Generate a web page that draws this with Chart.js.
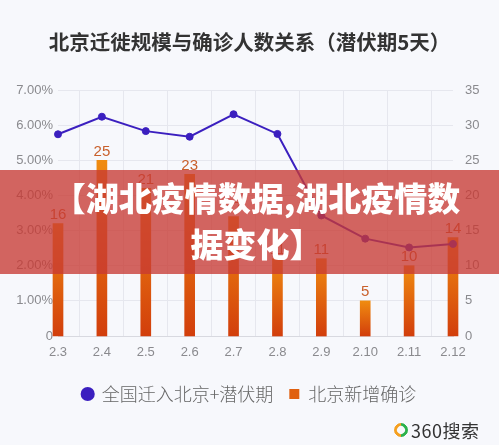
<!DOCTYPE html>
<html>
<head>
<meta charset="utf-8">
<script src="https://cdn.jsdelivr.net/npm/chart.js@4.4.0/dist/chart.umd.min.js"></script>
<style>
    html, body {
        margin: 0;
        padding: 0;
        background: #f7f8fc;
    }
    .wrap {
        position: relative;
        width: 499px;
        height: 445px;
        overflow: hidden;
    }
    .banner {
        position: absolute;
        left: 0;
        top: 170px;
        width: 499px;
        height: 104px;
        background: rgba(200, 58, 51, 0.78);
        color: #fff;
        font-family: "Noto Sans CJK SC", sans-serif;
        font-weight: 900;
        font-size: 33px;
        line-height: 46px;
        text-align: center;
        padding-top: 4px;
        padding-left: 14px;
        box-sizing: border-box;
    }
    .logo {
        position: absolute;
        left: 394px;
        top: 417px;
        display: flex;
        align-items: center;
        font-family: "Noto Sans CJK SC", sans-serif;
        font-size: 18px;
        letter-spacing: 0.5px;
        color: #333;
    }
    .logo .ring {
        width: 8px;
        height: 8px;
        border-radius: 50%;
        border: 3px solid;
        border-color: #2bb24c #2bb24c #f5a020 #f5a020;
        transform: rotate(45deg);
        margin-right: 3px;
    }
</style>
</head>
<body>
<div class="wrap">
    <canvas id="migrationChart" width="499" height="445"></canvas>
    <div class="banner">【湖北疫情数据,湖北疫情数<br>据变化】</div>
    <div class="logo"><span class="ring"></span>360搜索</div>
</div>
<script>
// Chart data
const dates = ['2.3', '2.4', '2.5', '2.6', '2.7', '2.8', '2.9', '2.10', '2.11', '2.12'];
const migrationPct = [5.74, 6.24, 5.83, 5.67, 6.31, 5.75, 3.43, 2.77, 2.52, 2.62];
const newCases = [16, 25, 21, 23, 17, 11, 11, 5, 10, 14];
const pctTicks = [0, 1, 2, 3, 4, 5, 6, 7];
const caseTicks = [0, 5, 10, 15, 20, 25, 30, 35];

const tickFont = { family: 'Liberation Sans', size: 13 };
const tickColor = '#8a8a8e';
const gridColor = '#e6e7ee';

// bar gradient, one per bar, from its top down to zero
function barGradient(context) {
    const chart = context.chart;
    if (!chart.chartArea || context.type !== 'data') return '#e2650f';
    const scale = chart.scales.y1;
    const top = scale.getPixelForValue(context.raw);
    const bottom = scale.getPixelForValue(0);
    const g = chart.ctx.createLinearGradient(0, top, 0, bottom);
    g.addColorStop(0, '#f08c10');
    g.addColorStop(1, '#d23e0c');
    return g;
}

// numbers above bars
const barLabels = {
    id: 'barLabels',
    afterDatasetsDraw(chart) {
        const ctx = chart.ctx;
        const meta = chart.getDatasetMeta(1);
        ctx.save();
        ctx.font = '15px "Liberation Sans"';
        ctx.fillStyle = '#c9602c';
        ctx.textAlign = 'center';
        ctx.textBaseline = 'bottom';
        meta.data.forEach((bar, i) => {
            ctx.fillText(String(newCases[i]), bar.x, bar.y - 1);
        });
        ctx.restore();
    }
};

const ctx = document.getElementById('migrationChart');

new Chart(ctx, {
    data: {
        labels: dates,
        datasets: [{
            type: 'line',
            label: '全国迁入北京+潜伏期',
            data: migrationPct,
            yAxisID: 'y',
            borderColor: '#3b1fbf',
            backgroundColor: '#3b1fbf',
            borderWidth: 2,
            pointRadius: 3.5,
            pointBorderWidth: 1,
            pointStyle: 'circle',
            tension: 0,
            order: 0,
            clip: false
        }, {
            type: 'bar',
            label: '北京新增确诊',
            data: newCases,
            yAxisID: 'y1',
            backgroundColor: barGradient,
            barThickness: 10,
            pointStyle: 'rect',
            order: 1,
            clip: false
        }]
    },
    options: {
        responsive: false,
        animation: false,
        layout: {
            padding: { left: 0, right: 0, top: 0, bottom: 32 }
        },
        plugins: {
            title: {
                display: true,
                text: '北京迁徙规模与确诊人数关系（潜伏期5天）',
                color: '#333',
                font: { family: 'Noto Sans CJK SC', size: 20.5, weight: 'bold' },
                padding: { top: 30, bottom: 35.4 }
            },
            legend: {
                position: 'bottom',
                labels: {
                    usePointStyle: true,
                    boxWidth: 10,
                    boxHeight: 10,
                    padding: 16,
                    color: '#666',
                    font: { family: 'Noto Sans CJK SC', size: 18, weight: 300 },
                    generateLabels(chart) {
                        return [{
                            text: '全国迁入北京+潜伏期',
                            fillStyle: '#3b1fbf',
                            strokeStyle: '#3b1fbf',
                            lineWidth: 0,
                            pointStyle: 'circle',
                            datasetIndex: 0,
                            fontColor: '#666'
                        }, {
                            text: '北京新增确诊',
                            fillStyle: '#e0600f',
                            strokeStyle: '#e0600f',
                            lineWidth: 0,
                            pointStyle: 'rect',
                            datasetIndex: 1,
                            fontColor: '#666'
                        }];
                    }
                }
            },
            tooltip: { enabled: false }
        },
        scales: {
            x: {
                offset: false,
                grid: { color: gridColor, drawTicks: false },
                border: { color: '#d8d9e0' },
                ticks: { font: tickFont, color: tickColor, padding: 9, maxRotation: 0 },
                afterFit(scale) { scale.height = 33; }
            },
            y: {
                position: 'left',
                min: 0,
                max: 7,
                grid: { color: gridColor, drawTicks: false },
                border: { display: false },
                afterBuildTicks(scale) {
                    scale.ticks = pctTicks.map(v => ({ value: v }));
                },
                ticks: {
                    font: tickFont,
                    color: tickColor,
                    padding: 5,
                    callback: v => v === 0 ? '0' : v.toFixed(2) + '%'
                },
                afterFit(scale) { scale.width = 58; }
            },
            y1: {
                position: 'right',
                min: 0,
                max: 35,
                grid: { display: false, drawTicks: false },
                border: { display: false },
                afterBuildTicks(scale) {
                    scale.ticks = caseTicks.map(v => ({ value: v }));
                },
                ticks: { font: tickFont, color: tickColor, padding: 12 },
                afterFit(scale) { scale.width = 46; }
            }
        }
    },
    plugins: [barLabels]
});
</script>
</body>
</html>
